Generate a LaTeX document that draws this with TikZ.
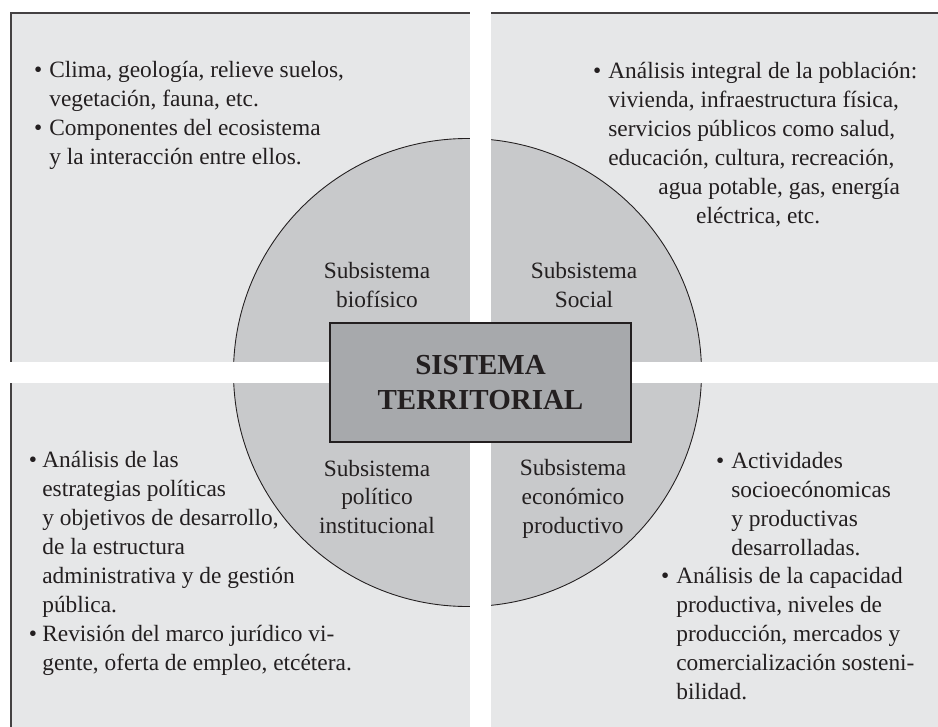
\documentclass[tikz,border=0pt]{standalone}
\usepackage{fontspec}
\setmainfont{Liberation Serif}
\usetikzlibrary{positioning}

\definecolor{panel}{HTML}{E6E7E8}
\definecolor{disco}{HTML}{C8C9CB}
\definecolor{caja}{HTML}{A7A9AC}
\definecolor{tinta}{HTML}{231F20}
\newcommand{\bul}{\llap{\textbullet\hspace{4pt}}}

\begin{document}
\begin{tikzpicture}[x=0.02cm, y=-0.02cm,
   texto/.style={font=\fontsize{13.3}{16.5}\selectfont, text=tinta, inner sep=0pt, align=left, anchor=base west},
   subs/.style={font=\fontsize{13.3}{16.5}\selectfont, text=tinta, inner sep=0pt, align=center}]
   \useasboundingbox (0,0) rectangle (938,727);

   % fondo, disco y franjas
   \fill[panel] (11,13) rectangle (938,727);
   \draw[line width=0.7pt, tinta!85] (11,727) -- (11,13) -- (938,13);
   \draw[fill=disco, draw=tinta, line width=0.5pt] (467.5,372.5) circle[radius=234];
   \fill[white] (470,0) rectangle (491,727);
   \fill[white] (0,362) rectangle (938,383);

   \node (sis)[draw=tinta, line width=0.9pt, fill=caja, minimum width=6.02cm, minimum height=2.38cm,
      align=center, text=tinta, font=\fontsize{16.5}{20}\selectfont\bfseries] at (480.5,382.5) {SISTEMA\\TERRITORIAL};

   \node (lbio)[subs] at (377,285) {Subsistema\\biofísico};
   \node (lsoc)[subs] at (584,285) {Subsistema\\Social};
   \node (lpol)[subs] at (377,497) {Subsistema\\político\\institucional};
   \node (leco)[subs] at (573,499) {Subsistema\\económico\\productivo};

   % textos (anclados en la linea de base de la ultima linea)
   \node (bio)[texto] at (49,164) {\bul Clima, geología, relieve suelos,\\vegetación, fauna, etc.\\
      \bul Componentes del ecosistema\\y la interacción entre ellos.};
   \node (soc)[texto] at (608,223) {\bul Análisis integral de la población:\\vivienda, infraestructura física,\\
      servicios públicos como salud,\\educación, cultura, recreación,\\
      \hspace*{28.5pt}agua potable, gas, energía\\\hspace*{50pt}eléctrica, etc.};
   \node (pol)[texto] at (42,670) {\llap{\textbullet\hspace{3pt}}Análisis de las\\estrategias políticas\\
      y objetivos de desarrollo,\\de la estructura\\administrativa y de gestión\\pública.\\
      \llap{\textbullet\hspace{3pt}}Revisión del marco jurídico vi-\\gente, oferta de empleo, etcétera.};
   \node (eco)[texto] at (731,555) {\bul Actividades\\socioecónomicas\\y productivas\\desarrolladas.};
   \node (prod)[texto] at (676,699) {\bul Análisis de la capacidad\\productiva, niveles de\\
      producción, mercados y\\comercialización sosteni-\\bilidad.};
\end{tikzpicture}
\end{document}
